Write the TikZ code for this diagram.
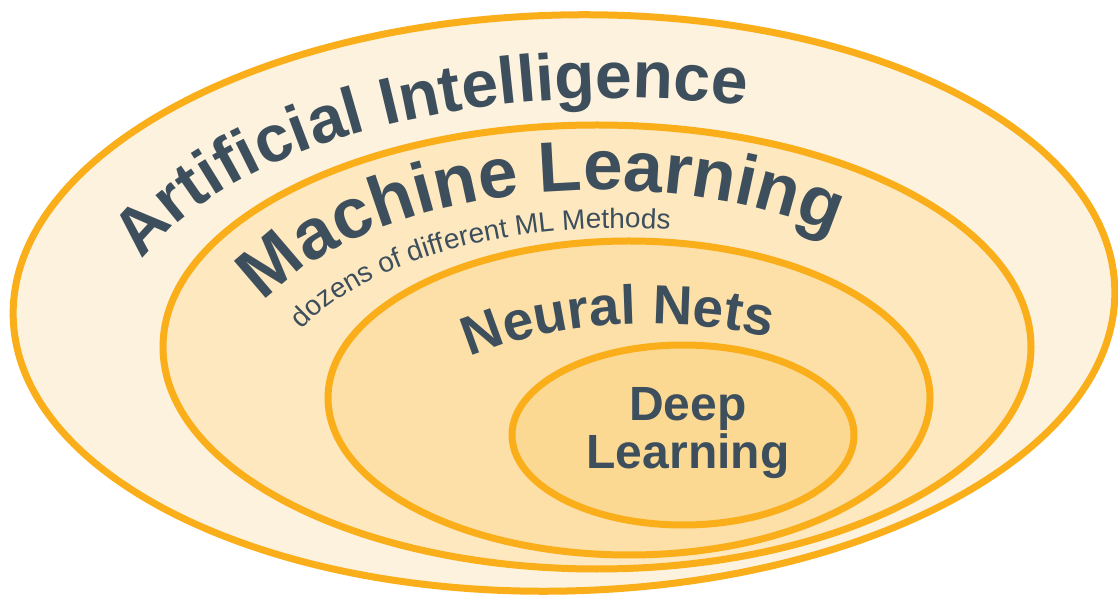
\documentclass[tikz,border=0pt]{standalone}
\usepackage{fontspec}
\setmainfont{Liberation Sans}
\usepackage{xcolor}
\usetikzlibrary{shapes.geometric,decorations.text,calc}

\definecolor{ringline}{RGB}{250,174,26}
\definecolor{aifill}{RGB}{253,242,222}
\definecolor{mlfill}{RGB}{253,232,192}
\definecolor{nnfill}{RGB}{253,224,168}
\definecolor{dlfill}{RGB}{252,217,146}
\definecolor{labeltext}{RGB}{61,79,92}

\newcommand{\aifont}{\fontsize{66}{66}\selectfont\bfseries}
\newcommand{\mlfont}{\fontsize{71}{71}\selectfont\bfseries}
\newcommand{\subfont}{\fontsize{28}{28}\selectfont}
\newcommand{\nnfont}{\fontsize{55}{55}\selectfont\bfseries}

\begin{document}
\begin{tikzpicture}[
    x=1pt, y=1pt,
    ring/.style={ellipse, draw=ringline, line width=7pt, inner sep=0pt},
    arctext/.style={decorate, decoration={text along path, text align=center, text color=labeltext}},
]
\useasboundingbox (0,0) rectangle (1118,597);

% Rings, outer to inner
\node[ring, fill=aifill, minimum width=1102pt, minimum height=576pt, rotate=1.5] (ai) at (564,294) {};
\node[ring, fill=mlfill, minimum width=868pt, minimum height=444pt] (ml) at (597,250) {};
\node[ring, fill=nnfill, minimum width=602pt, minimum height=314pt] (nn) at (629,199) {};
\node[ring, fill=dlfill, minimum width=342pt, minimum height=180pt] (dl) at (683,162) {};

% Centres of the label arcs
\coordinate (aic) at (620,257);
\coordinate (mlc) at (600,212);
\coordinate (subc) at (620,194);
\coordinate (nnc) at (650,155);

% Curved labels
\path[arctext, decoration={text={|\aifont|Artificial Intelligence}}]
    ($(aic)+(161.5:505pt and 242pt)$) arc[start angle=161.5, end angle=75.2, x radius=505pt, y radius=242pt];
\path[arctext, decoration={text={|\mlfont|Machine Learning}}]
    ($(mlc)+(161:370pt and 195pt)$) arc[start angle=161, end angle=46.5, x radius=370pt, y radius=195pt];
\path[arctext, decoration={text={|\subfont|dozens of different ML Methods}}]
    ($(subc)+(160:350pt and 175pt)$) arc[start angle=160, end angle=79, x radius=350pt, y radius=175pt];
\path[arctext, decoration={text={|\nnfont|Neural Nets}}]
    ($(nnc)+(135:260pt and 118pt)$) arc[start angle=135, end angle=61.5, x radius=260pt, y radius=118pt];

% Innermost label
\node[text=labeltext, font=\fontsize{48}{48}\selectfont\bfseries, align=center] (dltext) at (688,163.5) {Deep\\Learning};
\end{tikzpicture}
\end{document}
